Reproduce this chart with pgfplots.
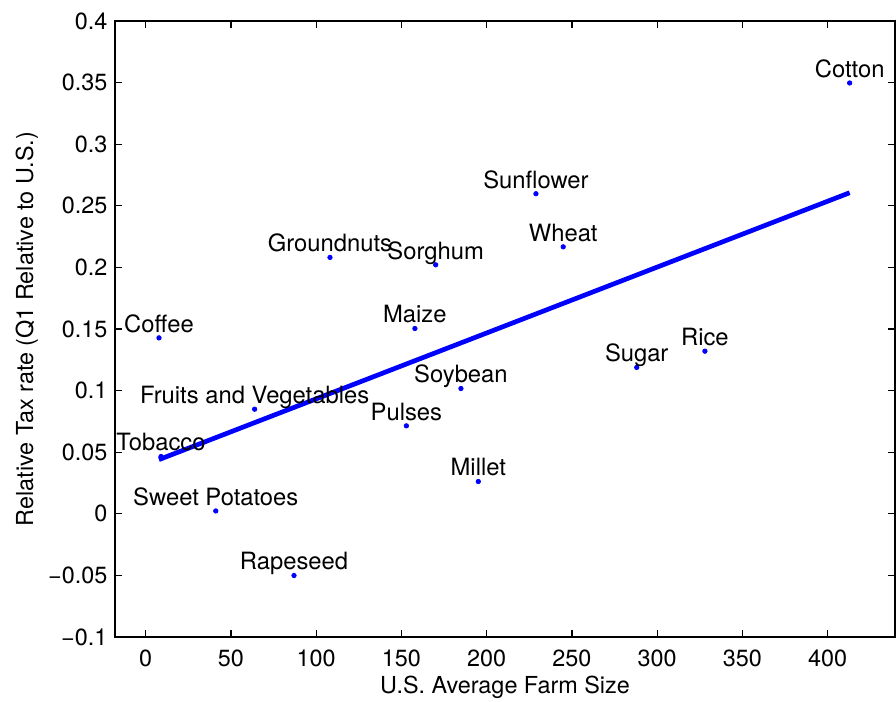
\documentclass[border=0pt]{standalone}
\usepackage{fontspec}
\setmainfont{TeX Gyre Heros}
\usepackage{pgfplots}
\usepackage{pgfplotstable}
\pgfplotsset{compat=1.18}

% crop, average farm size, relative tax rate
\pgfplotstableread[col sep=comma]{
x,y,name
7.8,0.1428,Coffee
9.0,0.0465,Tobacco
41.1,0.0023,Sweet Potatoes
63.9,0.0849,Fruits and Vegetables
87.0,-0.0501,Rapeseed
108.1,0.2081,Groundnuts
152.9,0.0714,Pulses
157.9,0.1504,Maize
170.1,0.2021,Sorghum
184.9,0.1017,Soybean
195.1,0.0262,Millet
228.9,0.2598,Sunflower
244.9,0.2167,Wheat
288.0,0.1188,Sugar
328.0,0.1320,Rice
412.9,0.3497,Cotton
}\croptable

\newcommand{\chartfont}{\fontsize{11.7}{14}\selectfont}
\newcommand{\cropfont}{\fontsize{11.9}{14}\selectfont}

\begin{document}
\begin{tikzpicture}
\useasboundingbox (-57.5pt,-32.5pt) rectangle (390.5pt,318.5pt);
\begin{axis}[
  at={(0,0)}, anchor=south west,
  scale only axis, width=390pt, height=308pt,
  xmin=-18, xmax=439.5, ymin=-0.1, ymax=0.4,
  xtick={0,50,100,150,200,250,300,350,400},
  ytick={-0.1,-0.05,0,0.05,0.1,0.15,0.2,0.25,0.3,0.35,0.4},
  yticklabels={−0.1,−0.05,0,0.05,0.1,0.15,0.2,0.25,0.3,0.35,0.4},
  xticklabels={0,50,100,150,200,250,300,350,400},
  tick align=inside, tick pos=both,
  major tick length=3.3pt,
  major tick style={black, line width=0.6pt},
  axis line style={black, line width=0.9pt},
  xticklabel style={font=\chartfont, inner sep=0pt, anchor=north, yshift=-6.3pt},
  yticklabel style={font=\chartfont, inner sep=0pt, anchor=east, xshift=-3.65pt},
  every axis x label/.style={at={(axis description cs:0.5,-0.0919)}, anchor=base, font=\chartfont, inner sep=0pt},
  every axis y label/.style={at={(axis description cs:-0.1051,0.5)}, anchor=base, rotate=90, font=\chartfont, inner sep=0pt},
  xlabel={U.S. Average Farm Size},
  ylabel={Relative Tax rate (Q1 Relative to U.S.)},
  clip=false,
]
\addplot[blue, line width=2.35pt] coordinates {(7.8,0.0440) (412.9,0.2606)};
\addplot[
  only marks, mark=*, mark size=1.1pt, color=blue,
  point meta=explicit symbolic,
  nodes near coords,
  every node near coord/.append style={anchor=base, yshift=2.8pt, inner sep=0pt, text=black, font=\cropfont},
] table[x=x, y=y, meta=name] {\croptable};
\end{axis}
\end{tikzpicture}
\end{document}
